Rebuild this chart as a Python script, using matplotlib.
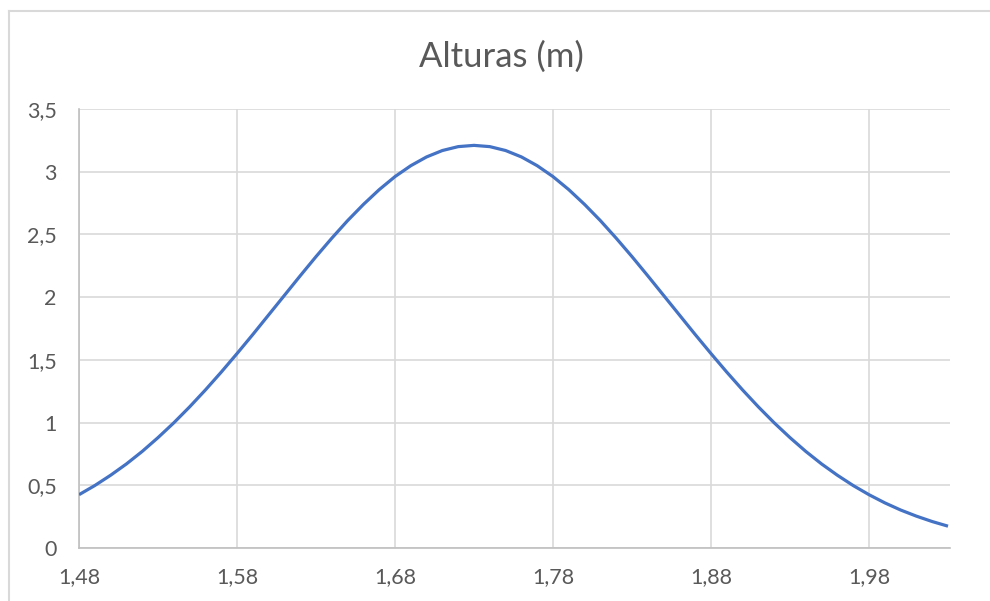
import matplotlib.pyplot as plt
from matplotlib.lines import Line2D

# Heights (m) and the curve values at each height
alturas = [round(1.48 + 0.01 * i, 2) for i in range(56)]
valores = [0.425, 0.498, 0.580, 0.670, 0.770, 0.880, 0.998, 1.125, 1.260, 1.402,
           1.550, 1.702, 1.858, 2.014, 2.170, 2.323, 2.470, 2.610, 2.739, 2.857,
           2.961, 3.048, 3.118, 3.169, 3.200, 3.210, 3.200, 3.169, 3.118, 3.048,
           2.961, 2.857, 2.739, 2.610, 2.470, 2.323, 2.170, 2.014, 1.858, 1.702,
           1.550, 1.402, 1.260, 1.125, 0.998, 0.880, 0.770, 0.670, 0.580, 0.498,
           0.425, 0.360, 0.303, 0.254, 0.211, 0.174]

xticks = [1.48, 1.58, 1.68, 1.78, 1.88, 1.98]
yticks = [0, 0.5, 1, 1.5, 2, 2.5, 3, 3.5]

plt.rcParams['font.family'] = ['Lato', 'DejaVu Sans']
text_color = '#595959'

fig = plt.figure(figsize=(9.9, 6.01), dpi=100)
ax = fig.add_axes([79 / 990, 53 / 601, 871 / 990, 439 / 601])

ax.plot(alturas, valores, color='#4472C4', linewidth=2.3, solid_capstyle='butt', zorder=3)

ax.set_xlim(1.48, 1.48 + 871 / 1580)
ax.set_ylim(0, 3.5)
ax.set_xticks(xticks)
ax.set_xticklabels([f'{t:.2f}'.replace('.', ',') for t in xticks])
ax.set_yticks(yticks)
ax.set_yticklabels([f'{t:g}'.replace('.', ',') for t in yticks])

ax.grid(True, color='#D9D9D9', linewidth=1.2)
ax.set_axisbelow(True)
for side in ['top', 'right']:
    ax.spines[side].set_visible(False)
for side in ['left', 'bottom']:
    ax.spines[side].set_color('#BFBFBF')
    ax.spines[side].set_linewidth(1.2)

ax.tick_params(length=0, labelsize=15.5, labelcolor=text_color)
ax.tick_params(axis='x', pad=14)
ax.tick_params(axis='y', pad=16)

fig.text(0.5065, 0.905, 'Alturas (m)', ha='center', va='center',
         fontsize=25, color=text_color)

# outer chart border (top and left edges)
fig.add_artist(Line2D([8.5 / 990, 1], [1 - 11 / 601, 1 - 11 / 601],
                      transform=fig.transFigure, color='#D9D9D9', linewidth=1.5))
fig.add_artist(Line2D([8.5 / 990, 8.5 / 990], [0, 1 - 11 / 601],
                      transform=fig.transFigure, color='#D9D9D9', linewidth=1.5))

fig.savefig('out.png', dpi=100)
